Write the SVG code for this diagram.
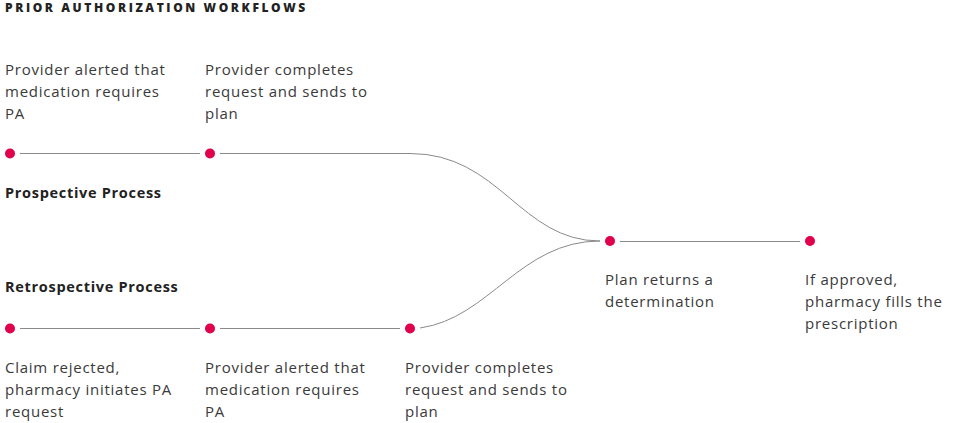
<svg xmlns="http://www.w3.org/2000/svg" width="975" height="423" viewBox="0 0 975 423">
<style>
.t{font-family:"Open Sans","Liberation Sans",sans-serif;font-size:15px;fill:#3a3a3a;letter-spacing:0.75px}
.h{font-family:"Open Sans","Liberation Sans",sans-serif;font-size:14.5px;font-weight:700;fill:#222;letter-spacing:0.7px}
.title{font-family:"Open Sans","Liberation Sans",sans-serif;font-size:12px;font-weight:800;fill:#222;letter-spacing:2.6px}
.dot{fill:#e0004d}
.c{fill:none;stroke:#8a8a8a;stroke-width:1}
</style>
<rect width="975" height="423" fill="#fff"/>
<text class="title" x="5" y="12">PRIOR AUTHORIZATION WORKFLOWS</text>
<text class="h" x="5" y="198">Prospective Process</text>
<text class="h" x="5" y="292">Retrospective Process</text>
<g id="connectors">
<path class="c" d="M20 153.5H200"/>
<path class="c" d="M220 153.5H410C500 153.5 520 241 600 241"/>
<path class="c" d="M20 328.5H200"/>
<path class="c" d="M220 328.5H400"/>
<path class="c" d="M420 328C490 318 520 241 600 241"/>
<path class="c" d="M620 241.5H800"/>
</g>
<g id="p1"><circle class="dot" cx="10" cy="153.5" r="5"/><text class="t" x="5" y="75">Provider alerted that</text><text class="t" x="5" y="97">medication requires</text><text class="t" x="5" y="119">PA</text></g>
<g id="p2"><circle class="dot" cx="210" cy="153.5" r="5"/><text class="t" x="205" y="75">Provider completes</text><text class="t" x="205" y="97">request and sends to</text><text class="t" x="205" y="119">plan</text></g>
<g id="r1"><circle class="dot" cx="10" cy="328.5" r="5"/><text class="t" x="5" y="373">Claim rejected,</text><text class="t" x="5" y="395">pharmacy initiates PA</text><text class="t" x="5" y="417">request</text></g>
<g id="r2"><circle class="dot" cx="210" cy="328.5" r="5"/><text class="t" x="205" y="373">Provider alerted that</text><text class="t" x="205" y="395">medication requires</text><text class="t" x="205" y="417">PA</text></g>
<g id="r3"><circle class="dot" cx="410" cy="328.5" r="5"/><text class="t" x="405" y="373">Provider completes</text><text class="t" x="405" y="395">request and sends to</text><text class="t" x="405" y="417">plan</text></g>
<g id="plan"><circle class="dot" cx="610" cy="241" r="5"/><text class="t" x="605" y="285">Plan returns a</text><text class="t" x="605" y="307">determination</text></g>
<g id="fill"><circle class="dot" cx="810" cy="241" r="5"/><text class="t" x="805" y="285">If approved,</text><text class="t" x="805" y="307">pharmacy fills the</text><text class="t" x="805" y="329">prescription</text></g>
</svg>
